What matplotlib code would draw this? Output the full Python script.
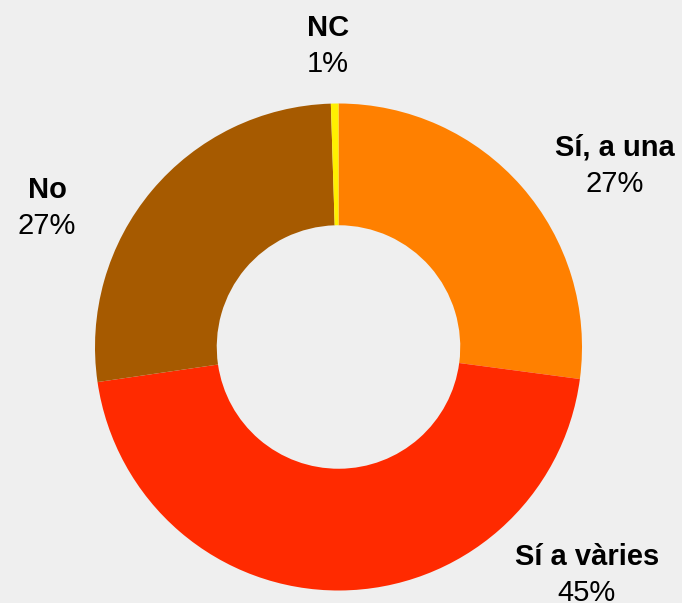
import matplotlib
matplotlib.use("Agg")
import matplotlib.pyplot as plt

categories = ["Sí, a una", "Sí a vàries", "No", "NC"]
values = [27.1, 45.6, 26.8, 0.5]
pct_labels = ["27%", "45%", "27%", "1%"]
colors = ["#FF8000", "#FF2A00", "#A65A00", "#FFF000"]

W, H = 682, 603
fig = plt.figure(figsize=(W / 100, H / 100), dpi=100)
fig.patch.set_facecolor("#EFEFEF")
ax = fig.add_axes([0, 0, 1, 1])
ax.set_xlim(0, W)
ax.set_ylim(0, H)
ax.set_aspect("equal")
ax.axis("off")

cx, cy, R = 338.5, H - 347, 243.5
ax.pie(values, colors=colors, startangle=90, counterclock=False,
       center=(cx, cy), radius=R, frame=True,
       wedgeprops=dict(width=R * 0.5, edgecolor="none"))
ax.set_xlim(0, W)
ax.set_ylim(0, H)
ax.axis("off")

label_pos = [(615, 148), (587, 557), (47, 190), (328, 28)]
font = ["Liberation Sans", "DejaVu Sans"]
for (x, y), name, pct in zip(label_pos, categories, pct_labels):
    ax.text(x, H - y, name, ha="center", va="center", fontsize=21,
            fontweight="bold", family=font, color="black")
    ax.text(x, H - y - 36, pct, ha="center", va="center", fontsize=21,
            family=font, color="black")

fig.savefig("out.png", dpi=100, facecolor=fig.get_facecolor())
